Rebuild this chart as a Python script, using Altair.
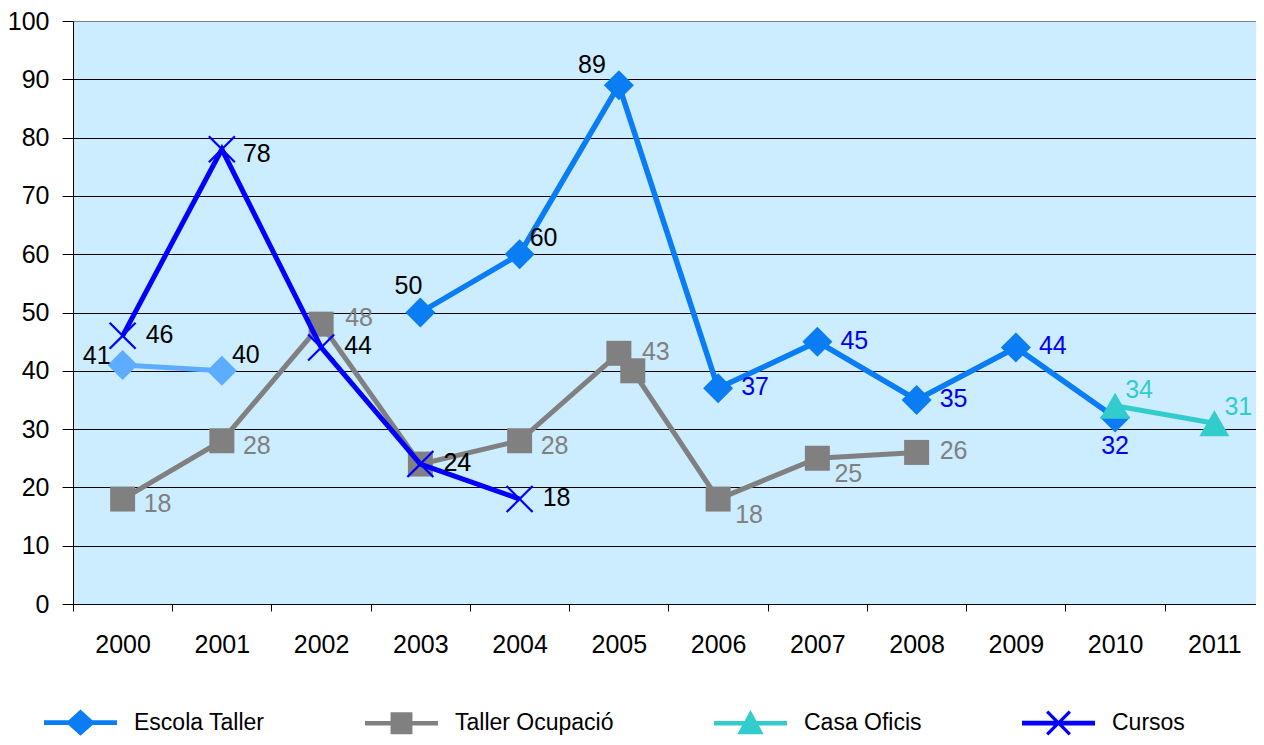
import altair as alt
import pandas as pd

FONT = "Liberation Sans, Arial, sans-serif"

# ---------------- data ----------------
years = list(range(2000, 2012))

series_names = ["Escola Taller", "Taller Ocupació", "Casa Oficis", "Cursos"]
series_colors = ["#0A7DF5", "#808080", "#33CCCC", "#0000FF"]
escola_early_color = "#5CADFF"

escola_years = [2000, 2001, 2003, 2004, 2005, 2006, 2007, 2008, 2009, 2010]
escola_values = [41, 40, 50, 60, 89, 37, 45, 35, 44, 32]
escola_segments = [1, 1, 2, 2, 2, 2, 2, 2, 2, 2]
escola_placement = ["L", "RU", "AL", "RU", "UL", "R", "R", "R", "R", "B"]

taller_years = [2000, 2001, 2002, 2003, 2004, 2005, 2005.14, 2006, 2007, 2008]
taller_values = [18, 28, 48, 24, 28, 43, 40, 18, 25, 26]
taller_placement = ["RD", "RD", "RH", "R", "RD", "R", None, "RDD", "RDD", "R"]

casa_years = [2010, 2011]
casa_values = [34, 31]
casa_placement = ["RU", "RU"]

cursos_years = [2000, 2001, 2002, 2003, 2004]
cursos_values = [46, 78, 44, 24, 18]
cursos_placement = ["R", "RD", "R", "R", "R"]

rows = []
for y, v, s, p in zip(escola_years, escola_values, escola_segments, escola_placement):
    rows.append(dict(series=series_names[0], year=y, value=v, segment=s, placement=p))
for y, v, p in zip(taller_years, taller_values, taller_placement):
    rows.append(dict(series=series_names[1], year=y, value=v, segment=1, placement=p))
for y, v, p in zip(casa_years, casa_values, casa_placement):
    rows.append(dict(series=series_names[2], year=y, value=v, segment=1, placement=p))
for y, v, p in zip(cursos_years, cursos_values, cursos_placement):
    rows.append(dict(series=series_names[3], year=y, value=v, segment=1, placement=p))
df = pd.DataFrame(rows)

# ---------------- symbols ----------------
def x_path(s, d):
    e = d * 0.70711
    a = d * 1.41421
    pts = [(0, -a), (s - e, -s - e), (s + e, -s + e), (a, 0), (s + e, s - e), (s - e, s + e),
           (0, a), (-s + e, s + e), (-s - e, s - e), (-a, 0), (-s - e, -s + e), (-s + e, -s - e)]
    return "M" + "L".join(f"{px:.3f},{py:.3f}" for px, py in pts) + "Z"

X_MARK = x_path(1.0, 0.085)
BAR = "M-1,-0.065H1V0.065H-1Z"
LEG_PATHS = [
    BAR + "M0,-0.36L0.4,0L0,0.36L-0.4,0Z",
    BAR + "M-0.3,-0.3H0.3V0.3H-0.3Z",
    BAR + "M0,-0.36L0.36,0.3L-0.36,0.3Z",
    BAR + x_path(0.31, 0.045),
]

LEG_SIZE = 73 * 73

PLOT_W = 1183
PLOT_H = 583
BAND = 99.25  # pixels per year

legend = alt.Legend(
    title=None, orient="none", direction="horizontal", columns=4,
    legendX=-29, legendY=665, padding=0,
    symbolSize=LEG_SIZE, symbolStrokeWidth=0,
    labelFont=FONT, labelFontSize=23, labelColor="black", labelOffset=17,
    labelLimit=400, columnPadding=100,
)

tick_vals = [y - 0.5 for y in years]

x_enc = alt.X("year:Q",
              scale=alt.Scale(domain=[years[0] - 0.5, years[0] - 0.5 + PLOT_W / BAND],
                              nice=False, zero=False),
              axis=alt.Axis(values=tick_vals, title=None, grid=False,
                            labelExpr="format(datum.value + 0.5, 'd')",
                            labelOffset=BAND / 2, labelFlush=False, labelOverlap=False,
                            labelBound=False, tickSize=7, labelPadding=21))
y_enc = alt.Y("value:Q",
              scale=alt.Scale(domain=[0, 100], nice=False),
              axis=alt.Axis(values=list(range(0, 101, 10)), title=None, grid=True,
                            gridColor={"condition": {"test": "datum.value >= 100", "value": "#808080"},
                                       "value": "black"},
                            gridWidth=1, tickSize=11, labelPadding=13))

base = alt.Chart(df)

def line(flt, color, width=5):
    return base.mark_line(color=color, strokeWidth=width).encode(x=x_enc, y=y_enc).transform_filter(flt)

def points(flt, shape, size, color):
    return (base.mark_point(filled=True, opacity=1, shape=shape, size=size, strokeWidth=0, color=color)
            .encode(x=x_enc, y=y_enc).transform_filter(flt))

f_tal = alt.datum.series == series_names[1]
f_esc1 = (alt.datum.series == series_names[0]) & (alt.datum.segment == 1)
f_esc2 = (alt.datum.series == series_names[0]) & (alt.datum.segment == 2)
f_cas = alt.datum.series == series_names[2]
f_cur = alt.datum.series == series_names[3]

# legend carrier: no rows drawn, legend entries come from the scale domains
legend_layer = (
    base.mark_point(filled=True, opacity=1, size=LEG_SIZE, strokeWidth=0)
    .encode(x=x_enc, y=y_enc,
            color=alt.Color("series:N", scale=alt.Scale(domain=series_names, range=series_colors),
                            legend=legend),
            shape=alt.Shape("series:N", scale=alt.Scale(domain=series_names, range=LEG_PATHS),
                            legend=legend))
    .transform_filter(alt.datum.value < -1000)
)

layers = [
    legend_layer,
    line(f_tal, series_colors[1], 5),
    points(f_tal, "square", 625, series_colors[1]),
    line(f_esc1, escola_early_color, 5),
    points(f_esc1, "diamond", 900, escola_early_color),
    line(f_esc2, series_colors[0], 5.5),
    points(f_esc2, "diamond", 900, series_colors[0]),
    line(f_cas, series_colors[2], 5),
    points(f_cas, "triangle-up", 900, series_colors[2]),
    line(f_cur, series_colors[3], 5),
    points(f_cur, X_MARK, 676, series_colors[3]),
]

label_color = {
    "condition": [
        {"test": f"datum.series == '{series_names[0]}' && datum.year >= 2006", "value": "#0000EE"},
        {"test": f"datum.series == '{series_names[1]}'", "value": series_colors[1]},
        {"test": f"datum.series == '{series_names[2]}'", "value": series_colors[2]},
    ],
    "value": "black",
}

placements = {
    "R": ("left", 23, -1),
    "RH": ("left", 24, -6),
    "RD": ("left", 21, 5),
    "RDD": ("left", 17, 16),
    "RU": ("left", 10, -16),
    "L": ("right", -12, -9),
    "AL": ("right", 2, -27),
    "UL": ("right", -13, -20),
    "B": ("center", 0, 29),
}
for key, (al, dx, dy) in placements.items():
    layers.append(
        base.mark_text(align=al, baseline="middle", dx=dx, dy=dy, font=FONT, fontSize=25)
        .encode(x=x_enc, y=y_enc, text=alt.Text("value:Q"), color=label_color)
        .transform_filter(alt.datum.placement == key)
    )

chart = (
    alt.layer(*layers)
    .properties(width=PLOT_W, height=PLOT_H,
                autosize=alt.AutoSizeParams(type="none"),
                padding={"left": 65, "top": 13, "right": 0, "bottom": 133})
    .configure_view(fill="#CCECFF", stroke="#808080", strokeWidth=1)
    .configure_axis(labelFont=FONT, labelFontSize=25, labelColor="black",
                    tickColor="black", domainColor="black", domainWidth=1, tickWidth=1)
)

chart.save("out.html", embed_options={"renderer": "svg", "actions": False})
